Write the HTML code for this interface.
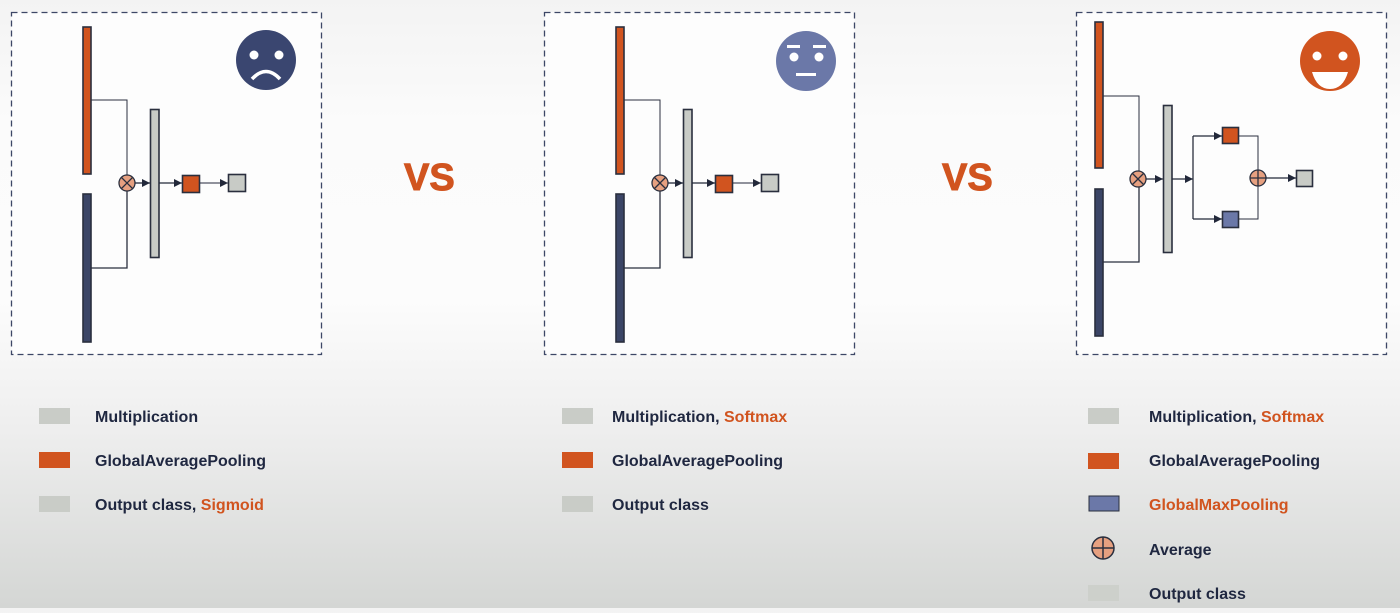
<!DOCTYPE html>
<html><head><meta charset="utf-8">
<style>
html,body{margin:0;padding:0}
body{width:1400px;height:608px;overflow:hidden;background:linear-gradient(#f3f3f3 0px,#fbfbfb 120px,#fcfcfc 300px,#eeeeee 430px,#d4d6d4 608px);font-family:"Liberation Sans",sans-serif}
svg text{font-family:"Liberation Sans",sans-serif;font-weight:bold}
</style></head>
<body>
<svg width="1400" height="608" xmlns="http://www.w3.org/2000/svg">
<defs>
<marker id="ar" viewBox="0 0 10 10" refX="10" refY="5" markerWidth="8" markerHeight="8" markerUnits="userSpaceOnUse" orient="auto"><path d="M0,0L10,5L0,10z" fill="#22283a"/></marker>
</defs>

<!-- Panel 1 -->
<g>
<rect x="11.5" y="12.5" width="310" height="342" fill="#fdfdfd" stroke="#3d4766" stroke-width="1.3" stroke-dasharray="6,4"/>
<rect x="83" y="27" width="8" height="147" fill="#d1541f" stroke="#2a2f3e" stroke-width="1.6"/>
<rect x="83" y="194" width="8" height="148" fill="#3b4566" stroke="#2a2f3e" stroke-width="1.6"/>
<polyline points="91,100 127,100 127,175" fill="none" stroke="#2a2f3e" stroke-width="1"/>
<polyline points="91,268 127,268 127,191" fill="none" stroke="#2a2f3e" stroke-width="1.3"/>
<g><circle cx="127" cy="183" r="8" fill="#e6a080" stroke="#2a2f3e" stroke-width="1.3"/><path d="M121.5,177.5L132.5,188.5M132.5,177.5L121.5,188.5" stroke="#2a2f3e" stroke-width="1.3"/></g>
<line x1="135" y1="183" x2="150" y2="183" stroke="#22283a" stroke-width="1.3" marker-end="url(#ar)"/>
<rect x="150.5" y="109.5" width="8.5" height="148" fill="#c8cbc6" stroke="#2a2f3e" stroke-width="1.6"/>
<line x1="159" y1="183" x2="182" y2="183" stroke="#22283a" stroke-width="1.3" marker-end="url(#ar)"/>
<rect x="182.5" y="175.5" width="17" height="17" fill="#d1541f" stroke="#2a2f3e" stroke-width="1.6"/>
<line x1="200" y1="183" x2="228" y2="183" stroke="#22283a" stroke-width="1" marker-end="url(#ar)"/>
<rect x="228.5" y="174.5" width="17" height="17" fill="#c8cbc6" stroke="#2a2f3e" stroke-width="1.6"/>
<g><circle cx="266" cy="60" r="30" fill="#3a4670"/><circle cx="254" cy="55" r="4.5" fill="#fff"/><circle cx="279" cy="55" r="4.5" fill="#fff"/><path d="M252,79Q266,64 280,79" fill="none" stroke="#fff" stroke-width="3.5"/></g>
</g>

<text x="404" y="190" font-size="38" fill="#d1541f" stroke="#d1541f" stroke-width="1">VS</text>

<!-- Panel 2 -->
<g transform="translate(533,0)">
<rect x="11.5" y="12.5" width="310" height="342" fill="#fdfdfd" stroke="#3d4766" stroke-width="1.3" stroke-dasharray="6,4"/>
<rect x="83" y="27" width="8" height="147" fill="#d1541f" stroke="#2a2f3e" stroke-width="1.6"/>
<rect x="83" y="194" width="8" height="148" fill="#3b4566" stroke="#2a2f3e" stroke-width="1.6"/>
<polyline points="91,100 127,100 127,175" fill="none" stroke="#2a2f3e" stroke-width="1"/>
<polyline points="91,268 127,268 127,191" fill="none" stroke="#2a2f3e" stroke-width="1.3"/>
<g><circle cx="127" cy="183" r="8" fill="#e6a080" stroke="#2a2f3e" stroke-width="1.3"/><path d="M121.5,177.5L132.5,188.5M132.5,177.5L121.5,188.5" stroke="#2a2f3e" stroke-width="1.3"/></g>
<line x1="135" y1="183" x2="150" y2="183" stroke="#22283a" stroke-width="1.3" marker-end="url(#ar)"/>
<rect x="150.5" y="109.5" width="8.5" height="148" fill="#c8cbc6" stroke="#2a2f3e" stroke-width="1.6"/>
<line x1="159" y1="183" x2="182" y2="183" stroke="#22283a" stroke-width="1.3" marker-end="url(#ar)"/>
<rect x="182.5" y="175.5" width="17" height="17" fill="#d1541f" stroke="#2a2f3e" stroke-width="1.6"/>
<line x1="200" y1="183" x2="228" y2="183" stroke="#22283a" stroke-width="1" marker-end="url(#ar)"/>
<rect x="228.5" y="174.5" width="17" height="17" fill="#c8cbc6" stroke="#2a2f3e" stroke-width="1.6"/>
<g><circle cx="273" cy="61" r="30" fill="#6b78a8"/><circle cx="261" cy="57" r="4.5" fill="#fff"/><circle cx="286" cy="57" r="4.5" fill="#fff"/><rect x="254" y="45" width="13" height="3" fill="#fff"/><rect x="280" y="45" width="13" height="3" fill="#fff"/><rect x="263" y="73" width="20" height="3" fill="#fff"/></g>
</g>

<text x="942" y="190" font-size="38" fill="#d1541f" stroke="#d1541f" stroke-width="1">VS</text>

<!-- Panel 3 -->
<g>
<rect x="1076.5" y="12.5" width="310" height="342" fill="#fdfdfd" stroke="#3d4766" stroke-width="1.3" stroke-dasharray="6,4"/>
<rect x="1095" y="22" width="8" height="146" fill="#d1541f" stroke="#2a2f3e" stroke-width="1.6"/>
<rect x="1095" y="189" width="8" height="147" fill="#3b4566" stroke="#2a2f3e" stroke-width="1.6"/>
<polyline points="1103,96 1139,96 1139,171" fill="none" stroke="#2a2f3e" stroke-width="1"/>
<polyline points="1103,262 1139,262 1139,187" fill="none" stroke="#2a2f3e" stroke-width="1.3"/>
<g><circle cx="1138" cy="179" r="8" fill="#e6a080" stroke="#2a2f3e" stroke-width="1.3"/><path d="M1132.5,173.5L1143.5,184.5M1143.5,173.5L1132.5,184.5" stroke="#2a2f3e" stroke-width="1.3"/></g>
<line x1="1146" y1="179" x2="1163" y2="179" stroke="#22283a" stroke-width="1.3" marker-end="url(#ar)"/>
<rect x="1163.5" y="105.5" width="8.5" height="147" fill="#c8cbc6" stroke="#2a2f3e" stroke-width="1.6"/>
<line x1="1172" y1="179" x2="1193" y2="179" stroke="#22283a" stroke-width="1.3" marker-end="url(#ar)"/>
<line x1="1193" y1="136" x2="1193" y2="219" stroke="#2a2f3e" stroke-width="1.3"/>
<line x1="1193" y1="136" x2="1222" y2="136" stroke="#22283a" stroke-width="1.3" marker-end="url(#ar)"/>
<line x1="1193" y1="219" x2="1222" y2="219" stroke="#22283a" stroke-width="1.3" marker-end="url(#ar)"/>
<rect x="1222.5" y="127.5" width="16" height="16" fill="#d1541f" stroke="#2a2f3e" stroke-width="1.6"/>
<rect x="1222.5" y="211.5" width="16" height="16" fill="#6b78a8" stroke="#2a2f3e" stroke-width="1.6"/>
<polyline points="1239,136 1258,136 1258,219 1239,219" fill="none" stroke="#2a2f3e" stroke-width="1"/>
<g><circle cx="1258" cy="178" r="8" fill="#e6a080" stroke="#2a2f3e" stroke-width="1.3"/><path d="M1250,178H1266M1258,170V186" stroke="#2a2f3e" stroke-width="1.3"/></g>
<line x1="1266" y1="178" x2="1296" y2="178" stroke="#22283a" stroke-width="1.3" marker-end="url(#ar)"/>
<rect x="1296.5" y="170.5" width="16" height="16" fill="#c8cbc6" stroke="#2a2f3e" stroke-width="1.6"/>
<g><circle cx="1330" cy="61" r="30" fill="#d1541f"/><circle cx="1317" cy="56" r="4.5" fill="#fff"/><circle cx="1343" cy="56" r="4.5" fill="#fff"/><path d="M1312,72H1348Q1343,89 1330,89Q1317,89 1312,72Z" fill="#fff"/></g>
</g>

<!-- Legends -->
<g font-size="16">
<rect x="39" y="408" width="31" height="16" fill="#c9ccc7"/>
<text x="95" y="422" fill="#1f2740">Multiplication</text>
<rect x="39" y="452" width="31" height="16" fill="#d1541f"/>
<text x="95" y="466" fill="#1f2740">GlobalAveragePooling</text>
<rect x="39" y="496" width="31" height="16" fill="#c9ccc7"/>
<text x="95" y="510" fill="#1f2740">Output class, <tspan fill="#d1541f">Sigmoid</tspan></text>
</g>
<g font-size="16">
<rect x="562" y="408" width="31" height="16" fill="#c9ccc7"/>
<text x="612" y="422" fill="#1f2740">Multiplication, <tspan fill="#d1541f">Softmax</tspan></text>
<rect x="562" y="452" width="31" height="16" fill="#d1541f"/>
<text x="612" y="466" fill="#1f2740">GlobalAveragePooling</text>
<rect x="562" y="496" width="31" height="16" fill="#c9ccc7"/>
<text x="612" y="510" fill="#1f2740">Output class</text>
</g>
<g font-size="16">
<rect x="1088" y="408" width="31" height="16" fill="#c9ccc7"/>
<text x="1149" y="422" fill="#1f2740">Multiplication, <tspan fill="#d1541f">Softmax</tspan></text>
<rect x="1088" y="453" width="31" height="16" fill="#d1541f"/>
<text x="1149" y="466" fill="#1f2740">GlobalAveragePooling</text>
<rect x="1089" y="496" width="30" height="15" fill="#6b78a8" stroke="#2a2f3e" stroke-width="1"/>
<text x="1149" y="510" fill="#d1541f">GlobalMaxPooling</text>
<g><circle cx="1103" cy="548" r="11" fill="#e6a080" stroke="#2a2f3e" stroke-width="1.5"/><path d="M1092,548H1114M1103,537V559" stroke="#2a2f3e" stroke-width="1.5"/></g>
<text x="1149" y="555" fill="#1f2740">Average</text>
<rect x="1088" y="585" width="31" height="16" fill="#cdd0cb"/>
<text x="1149" y="599" fill="#1f2740">Output class</text>
</g>
</svg>
</body></html>
